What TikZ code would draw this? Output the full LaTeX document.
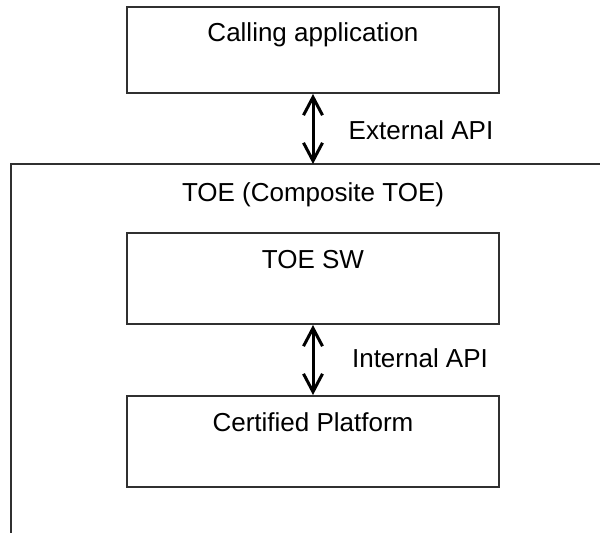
\documentclass[tikz,border=0pt]{standalone}
\usepackage{fontspec}
\setmainfont{Liberation Sans}
\usetikzlibrary{arrows.meta, positioning}
\definecolor{boxline}{HTML}{303030}
\tikzset{
  blk/.style    = {rectangle, draw=boxline, line width=1pt, minimum width=186pt, inner sep=0pt},
  txt/.style    = {font=\fontsize{13}{15}\selectfont, inner sep=0pt},
  apiarrow/.style = {{Straight Barb[length=9pt, width=9.5pt]}-{Straight Barb[length=9pt, width=9.5pt]}, line width=1.5pt},
  wall/.style   = {draw=boxline, line width=1pt},
}
\begin{document}
\begin{tikzpicture}[x=0.5pt, y=-0.5pt]
  \useasboundingbox (0,0) rectangle (600,533);
  % outer TOE frame, cut off at the page edge
  \coordinate (toetop) at (313,164);
  \draw[wall] (11,533) -- (11,164) -- (600,164);
  \node[txt] (toelbl) at (313,195) {TOE (Composite TOE)};
  % boxes
  \node[blk, minimum height=43pt] (app) at (313,50) {};
  \node[txt] (applbl) at (313,35) {Calling application};
  \node[blk, minimum height=45.5pt] (sw) at (313,278.5) {};
  \node[txt] (swlbl) at (313,260) {TOE SW};
  \node[blk, minimum height=45.5pt] (plat) at (313,441.5) {};
  \node[txt] (platlbl) at (313,422) {Certified Platform};
  % interfaces
  \draw[apiarrow] (app.south) -- (toetop);
  \node[txt] (extlbl) at (421,130) {External API};
  \draw[apiarrow] (sw.south) -- (plat.north);
  \node[txt] (intlbl) at (420,358) {Internal API};
\end{tikzpicture}
\end{document}
